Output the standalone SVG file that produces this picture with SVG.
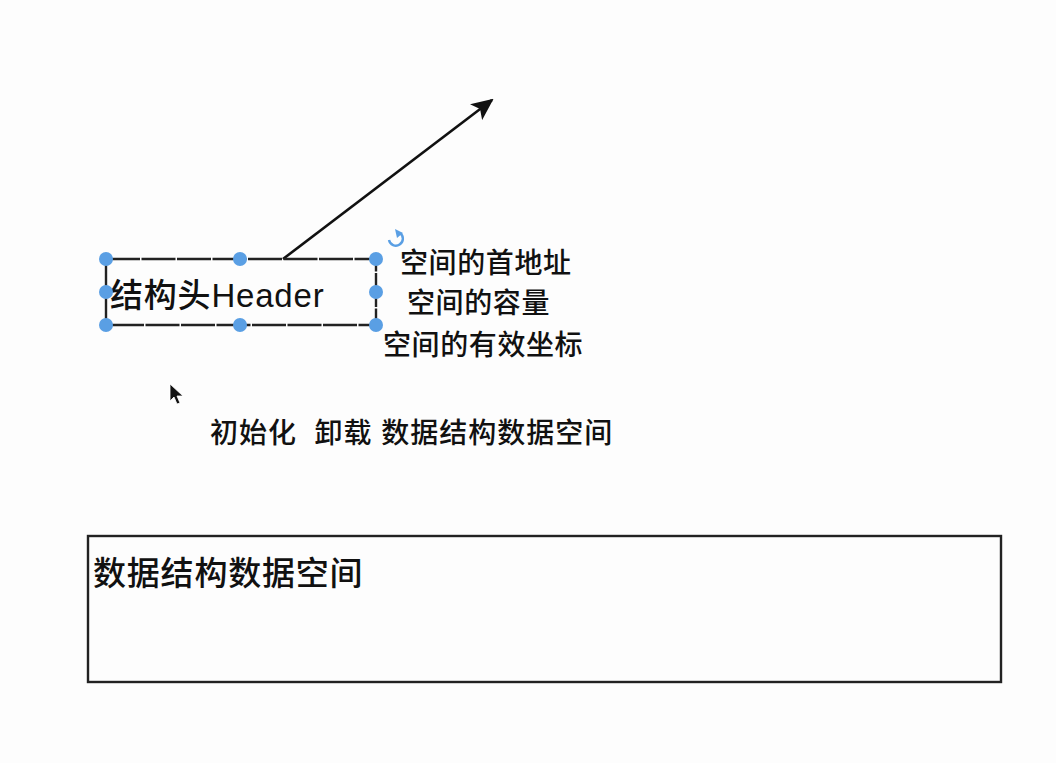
<svg xmlns="http://www.w3.org/2000/svg" width="1056" height="763" viewBox="0 0 1056 763">
<style>
.t{font-family:"Liberation Sans","Noto Sans CJK SC",sans-serif;fill:#111;font-weight:500;}
.h{fill:#5a9fe4;}
</style>
<defs>
<marker id="ah" viewBox="0 0 22 20" refX="20" refY="10" markerWidth="22" markerHeight="20" markerUnits="userSpaceOnUse" orient="auto">
<path d="M0,0 L22,10 L0,20 L5,10 Z" fill="#111"/>
</marker>
</defs>
<rect width="1056" height="763" fill="#fdfdfd"/>
<g id="connectors">
<line x1="283" y1="259" x2="492" y2="100" stroke="#111" stroke-width="2.6" marker-end="url(#ah)"/>
</g>
<g id="header">
<rect x="106" y="259" width="270" height="66" fill="none" stroke="#222" stroke-width="2.4" stroke-dasharray="34,1.5"/>
<text class="t" x="110" y="307" font-size="33" letter-spacing="0.8">结构头Header</text>
<circle class="h" cx="106" cy="259" r="7"/>
<circle class="h" cx="240" cy="259" r="7"/>
<circle class="h" cx="376" cy="259" r="7"/>
<circle class="h" cx="106" cy="292" r="7"/>
<circle class="h" cx="376" cy="292" r="7"/>
<circle class="h" cx="106" cy="325" r="7"/>
<circle class="h" cx="240" cy="325" r="7"/>
<circle class="h" cx="376" cy="325" r="7"/>
<path d="M400,233 A7,7 0 1 1 389,240" fill="none" stroke="#5a9fe4" stroke-width="2.4"/>
<path d="M395,229 L403,233 L397,238 Z" fill="#5a9fe4"/>
</g>
<g id="fields">
<text class="t" x="400" y="273" font-size="28" letter-spacing="0.6">空间的首地址</text>
<text class="t" x="407" y="313" font-size="28" letter-spacing="0.6">空间的容量</text>
<text class="t" x="383" y="355" font-size="28" letter-spacing="0.6">空间的有效坐标</text>
</g>
<g id="ops">
<text class="t" x="210" y="443" font-size="28" letter-spacing="1" xml:space="preserve">初始化  卸载 数据结构数据空间</text>
</g>
<g id="dataspace">
<rect x="88" y="536" width="913" height="146" fill="none" stroke="#222" stroke-width="2.4"/>
<text class="t" x="93" y="585" font-size="33" letter-spacing="0.8">数据结构数据空间</text>
</g>
<g id="cursor">
<path d="M170,384 L170,401 L174,397 L177,404 L180,403 L177,396 L183,396 Z" fill="#111" stroke="#fff" stroke-width="0.8"/>
</g>
</svg>
